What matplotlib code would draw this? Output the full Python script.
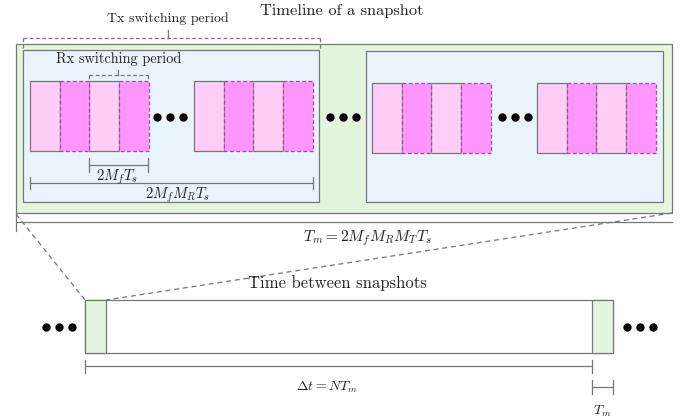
import matplotlib.pyplot as plt
from matplotlib.patches import Rectangle

plt.rcParams['font.family'] = 'cmr10'
plt.rcParams['mathtext.fontset'] = 'cm'
plt.rcParams['axes.formatter.use_mathtext'] = True

# layout of the diagram (pixel units, y pointing down)
group_x = [30, 194, 372, 537]
group_top = [81, 81, 83, 83]
col_w = 29.7
block_h = 70
col_kind = ['light', 'dark', 'light', 'dark']
blue_boxes = [(23, 50, 296, 152), (366, 51, 297, 151)]
dot_rows = [(157, 117), (330, 117), (502, 117), (46, 327), (627, 327)]

labels = ["Timeline of a snapshot", "Tx switching period", "Rx switching period",
          r"$2M_fT_s$", r"$2M_fM_RT_s$", r"$T_m = 2M_fM_RM_TT_s$",
          "Time between snapshots", r"$\Delta t = NT_m$", r"$T_m$"]
label_xy = [(342, 11), (168, 19), (119, 59), (117, 177), (177, 195),
            (367, 238), (337, 283), (327, 387), (602, 411)]
label_size = [11.8, 10, 10.3, 10.5, 10.5, 11.2, 12, 10, 10]

EDGE = '#777777'
GREEN = '#e3f5dd'
BLUE = '#e8f3fc'
LIGHT = '#ffcdf6'
DARK = '#ff96ff'

fig = plt.figure(figsize=(6.84, 4.18), dpi=100)
ax = fig.add_axes([0, 0, 1, 1])
ax.set_xlim(0, 684)
ax.set_ylim(418, 0)
ax.axis('off')


def bracket(x0, x1, y, t0, t1, ls='-'):
    ax.plot([x0, x1], [y, y], color=EDGE, lw=0.9, ls=ls)
    ax.plot([x0, x0], [t0, t1], color=EDGE, lw=0.9, ls=ls)
    ax.plot([x1, x1], [t0, t1], color=EDGE, lw=0.9, ls=ls)


# snapshot box
ax.add_patch(Rectangle((16, 44), 656, 169, fc=GREEN, ec=EDGE, lw=0.9))
for (x, y, w, h) in blue_boxes:
    ax.add_patch(Rectangle((x, y), w, h, fc=BLUE, ec=EDGE, lw=0.9))

for gx, gy in zip(group_x, group_top):
    for i, kind in enumerate(col_kind):
        if kind == 'light':
            ax.add_patch(Rectangle((gx + i * col_w, gy), col_w, block_h,
                                   fc=LIGHT, ec=EDGE, lw=0.9))
    for i, kind in enumerate(col_kind):
        if kind == 'dark':
            ax.add_patch(Rectangle((gx + i * col_w, gy), col_w, block_h,
                                   fc=DARK, ec='#9a4f9a', lw=0.9, ls=(0, (3, 2))))

for (x, y) in dot_rows:
    ax.plot([x, x + 13, x + 26], [y, y, y], 'o', color='black', ms=5)

# Tx / Rx switching period brackets (dashed)
bracket(23, 320, 38, 38, 50, ls=(0, (3, 2)))
ax.plot([168, 168], [30, 38], color=EDGE, lw=0.9)
bracket(89, 148, 75, 75, 81, ls=(0, (3, 2)))
ax.plot([118, 118], [70, 75], color=EDGE, lw=0.9)

# duration brackets
bracket(89, 148, 165, 158, 172)
bracket(30, 313, 183, 177, 189)
ax.plot([16, 672], [222, 222], color=EDGE, lw=0.9)
ax.plot([16, 16], [214, 231], color=EDGE, lw=0.9)

# zoom lines
ax.plot([16, 85], [214, 300], color=EDGE, lw=0.9, ls=(0, (4, 3)))
ax.plot([672, 106], [213, 300], color=EDGE, lw=0.9, ls=(0, (4, 3)))

# time between snapshots
ax.add_patch(Rectangle((85, 300), 528, 53, fc='white', ec=EDGE, lw=0.9))
ax.add_patch(Rectangle((85, 300), 21, 53, fc=GREEN, ec=EDGE, lw=0.9))
ax.add_patch(Rectangle((592, 300), 21, 53, fc=GREEN, ec=EDGE, lw=0.9))
bracket(85, 592, 366, 360, 373)
bracket(592, 613, 387, 380, 394)

for txt, (x, y), s in zip(labels, label_xy, label_size):
    ax.text(x, y, txt, fontsize=s, ha='center', va='center', color='#222222')

fig.savefig('out.png', dpi=100)
